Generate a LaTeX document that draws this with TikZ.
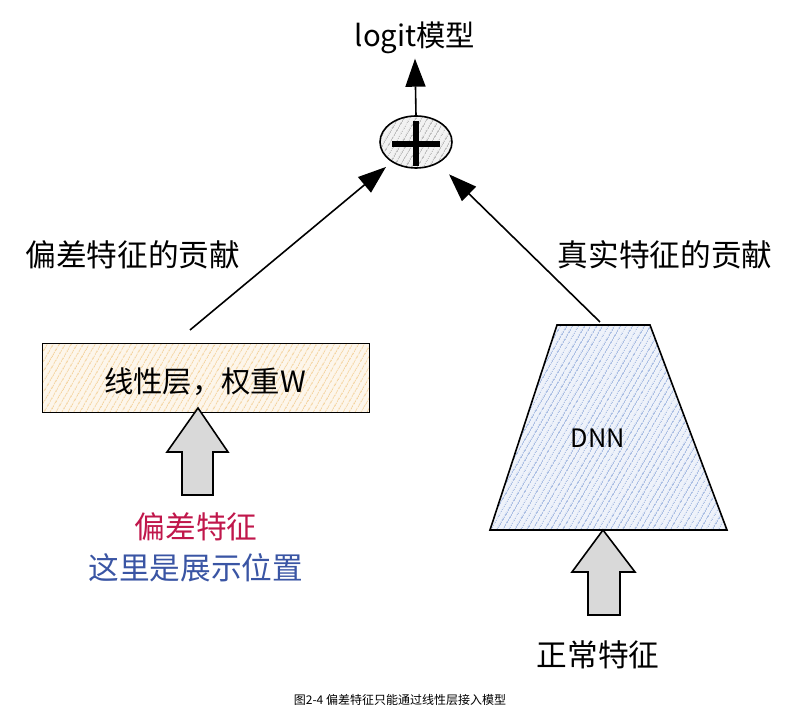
\documentclass[tikz,border=0pt]{standalone}
\usepackage{fontspec}
\setmainfont{Noto Sans CJK SC}
\usetikzlibrary{arrows.meta, calc, patterns.meta, shapes.geometric}
\definecolor{biasred}{HTML}{C0174B}
\definecolor{noteblue}{HTML}{3A55A4}
\definecolor{hatchorange}{HTML}{E8A53A}
\definecolor{hatchblue}{HTML}{5A80C8}
\tikzset{
	bigtext/.style={font=\fontsize{23}{27}\selectfont}
}
\tikzset{
	hatchbox/.style={draw, line width=1.2pt, preaction={fill=#1!10}, pattern={Lines[angle=60, distance=4pt, line width=0.5pt]}, pattern color=#1!70}
}
\tikzset{
	featarrow/.style={draw, line width=1.2pt, fill=gray!30, line join=miter}
}

\begin{document}
\begin{tikzpicture}[x=0.75pt, y=-0.75pt, >={Triangle[length=21pt, width=15pt]}]
      \useasboundingbox (0,0) rectangle (794,716);

      % the sum of both contributions
      \node[font=\fontsize{22}{26}\selectfont] (logit) at (415,38) {logit模型};
      \node[hatchbox=gray, ellipse, minimum width=54pt, minimum height=39pt] (sum) at (416,142) {};
      \draw[line width=3.8pt] ($(sum.center)+(-24,2)$) -- ($(sum.center)+(24,2)$);
      \draw[line width=3.8pt] ($(sum.center)+(0,-21)$) -- ($(sum.center)+(0,24)$);
      \draw[->, line width=1.2pt] (sum.north) -- (logit.south);

      % left branch: bias features through a linear layer
      \node[hatchbox=hatchorange, minimum width=245pt, minimum height=52pt] (linear) at (206,378) {};
      \node[font=\fontsize{22}{26}\selectfont] (lineartext) at (205,382) {线性层，权重W};
      \coordinate (biasout) at (190,330);
      \draw[->, line width=1.2pt, shorten >=6pt] (biasout) -- (sum);
      \node[bigtext] (biaslabel) at (133,255) {偏差特征的贡献};
      \draw[featarrow] (167,452) -- (198,408) -- (228,452) -- (213,452) -- (213,495) -- (182,495) -- (182,452) -- cycle;
      \node[bigtext, text=biasred] (biasfeat) at (196,527) {偏差特征};
      \node[bigtext, text=noteblue] (posnote) at (196,568) {这里是展示位置};

      % right branch: normal features through the DNN
      \path[hatchbox=hatchblue] (557,325) -- (650,325) -- (727,530) -- (490,530) -- cycle;
      \node[font=\fontsize{19}{22}\selectfont] (dnn) at (598,438) {DNN};
      \coordinate (dnntop) at (600,322);
      \draw[->, line width=1.2pt, shorten >=12pt] (dnntop) -- (sum);
      \node[bigtext] (reallabel) at (665,255) {真实特征的贡献};
      \draw[featarrow] (572,572) -- (603,530) -- (635,572) -- (620,572) -- (620,615) -- (588,615) -- (588,572) -- cycle;
      \node[bigtext] (normalfeat) at (598,655) {正常特征};

      \node[font=\fontsize{9}{11}\selectfont] (caption) at (400,700) {图2-4 偏差特征只能通过线性层接入模型};
    \end{tikzpicture}
\end{document}
